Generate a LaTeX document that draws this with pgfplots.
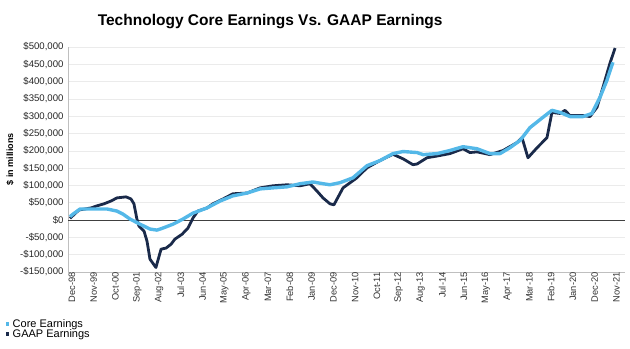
\documentclass[border=0pt]{standalone}
\usepackage{pgfplots}
\pgfplotsset{compat=1.18}
\usepackage{fontspec}
\setmainfont{Liberation Sans}
\definecolor{coreblue}{RGB}{84,184,232}
\definecolor{gaapnavy}{RGB}{26,42,74}
\begin{document}
\begin{tikzpicture}
\begin{axis}[
  width=557pt, height=225pt, scale only axis,
  xmin=-1, xmax=280.3, ymin=-150, ymax=500,
  clip=false,
  axis lines*=left,
  axis line style={black!25, line width=0.8pt},
  major tick length=0pt,
  scaled ticks=false,
  ytick={-150,-100,-50,0,50,100,150,200,250,300,350,400,450,500},
  yticklabels={{-\$150,000},{-\$100,000},{-\$50,000},{\$0},{\$50,000},{\$100,000},{\$150,000},{\$200,000},{\$250,000},{\$300,000},{\$350,000},{\$400,000},{\$450,000},{\$500,000}},
  y tick label style={font=\fontsize{9.6}{10}\selectfont, color=black!85, xshift=-1pt},
  xtick={0,11,22,33,44,55,66,77,88,99,110,121,132,143,154,165,176,187,198,209,220,231,242,253,264,275},
  xticklabels={Dec-98,Nov-99,Oct-00,Sep-01,Aug-02,Jul-03,Jun-04,May-05,Apr-06,Mar-07,Feb-08,Jan-09,Dec-09,Nov-10,Oct-11,Sep-12,Aug-13,Jul-14,Jun-15,May-16,Apr-17,Mar-18,Feb-19,Jan-20,Dec-20,Nov-21},
  x tick label style={rotate=90, anchor=east, font=\fontsize{9.3}{10}\selectfont, color=black!80, xshift=3pt, yshift=-2pt},
  ymajorgrids, grid style={black!8, line width=0.6pt},
  extra y ticks={0}, extra y tick labels={},
  extra y tick style={grid=major, grid style={black!75, line width=1pt}},
  ylabel={\bfseries \$ in millions},
  every axis y label/.style={at={(axis description cs:-0.104,0.5)}, rotate=90, anchor=center, font=\fontsize{9}{10}\selectfont},
  reverse legend,
  legend cell align=left,
  legend image code/.code={\path[#1, fill, draw=none] (0pt,-1.8pt) rectangle (3.6pt,1.8pt); \path (0pt,0pt) (4.5pt,0pt);},
  legend style={at={(axis description cs:-0.121,-0.195)}, anchor=north west, draw=none, fill=none,
    font=\fontsize{11}{12}\selectfont, row sep=-1pt, nodes={inner sep=1pt}},
]
\addplot[gaapnavy, line width=2.8pt, line join=round] coordinates {
(0,5) (4.5,29) (10.6,35) (13.6,41) (17.2,47) (20.7,55) (23.7,64) (28.3,67) (30.8,61) (32.3,47)
(33.8,3) (34.8,-17) (37.4,-32) (38.9,-61) (40.4,-113) (43.4,-137) (46,-84) (48.5,-81) (51,-70)
(53,-55) (56.6,-41) (59.6,-23) (62.1,6) (64.6,26) (69.2,35) (72.2,47) (77.3,61) (82.3,76)
(89.4,78) (96,93) (102.5,99) (109.6,102) (116.2,99) (121.2,105) (124.7,84) (127.8,64) (131.3,47)
(133.3,44) (137.9,93) (144.9,122) (150,151) (156.6,172) (163.1,190) (168.2,177) (173.2,160)
(175.3,162) (180.3,180) (185.4,185) (191.9,192) (198.5,206) (202,195) (205.6,197) (212.1,189)
(218.7,201) (225.8,224) (228.3,238) (231.3,180) (235.9,209) (240.9,238) (243.4,311) (247.5,308)
(250,317) (252.5,302) (259.1,302) (262.6,299) (266.2,326) (269.2,384) (272.7,453) (275.3,497)
};
\addlegendentry{GAAP Earnings}
\addplot[coreblue, line width=3.4pt, line join=round] coordinates {
(0,10) (1.5,17) (5.1,32) (11.6,32) (18.7,32) (23.7,26) (26.8,17) (30.3,3) (35.4,-12) (40.4,-26)
(43.9,-29) (47,-23) (52,-12) (57.1,3) (62.1,20) (69.2,35) (75.8,55) (82.3,70) (89.4,78) (96,90)
(102.5,93) (109.6,96) (116.2,105) (122.7,110) (127.8,105) (131.3,102) (136.4,108) (142.9,122)
(150,157) (156.6,172) (163.1,192) (168.2,198) (175.3,195) (178.3,189) (185.4,192) (191.9,201)
(198.5,212) (205.6,206) (212.1,192) (217.2,192) (222.2,209) (227.3,230) (232.3,267) (238.9,297)
(243.4,317) (247.5,311) (252.5,299) (259.1,299) (263.6,308) (267.7,355) (271.2,404) (274.2,456)
};
\addlegendentry{Core Earnings}
\node[font=\bfseries\fontsize{15.5}{17}\selectfont] at (axis description cs:0.363,1.111) {Technology Core Earnings Vs. GAAP Earnings};
\coordinate (BL) at (axis description cs:-0.1221,-0.3422);
\coordinate (TR) at (axis description cs:1.0090,1.2089);
\end{axis}
\pgfresetboundingbox
\path[use as bounding box] (BL) rectangle (TR);
\end{tikzpicture}
\end{document}
